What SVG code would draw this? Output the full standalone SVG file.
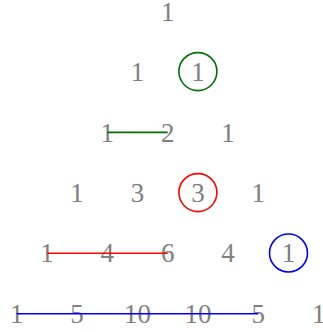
<svg xmlns="http://www.w3.org/2000/svg" width="323" height="332" viewBox="0 0 323 332">
<style>
text{font-family:"Liberation Serif","Times New Roman",serif;font-size:27px;fill:#808080;text-anchor:middle}
.c{fill:none;stroke-width:1.6}
.l{stroke-width:1.6}
</style>
<rect width="323" height="332" fill="#fff"/>
<g id="r0"><text x="167.7" y="20.8">1</text></g>
<g id="r1"><text x="137.5" y="81.2">1</text><text x="197.9" y="81.2">1</text></g>
<g id="r2"><text x="107.3" y="141.6">1</text><text x="167.7" y="141.6">2</text><text x="228.1" y="141.6">1</text></g>
<g id="r3"><text x="77.1" y="202">1</text><text x="137.5" y="202">3</text><text x="197.9" y="202">3</text><text x="258.3" y="202">1</text></g>
<g id="r4"><text x="46.9" y="262.4">1</text><text x="107.3" y="262.4">4</text><text x="167.7" y="262.4">6</text><text x="228.1" y="262.4">4</text><text x="288.5" y="262.4">1</text></g>
<g id="r5"><text x="16.7" y="322.8">1</text><text x="77.1" y="322.8">5</text><text x="137.5" y="322.8">10</text><text x="197.9" y="322.8">10</text><text x="258.3" y="322.8">5</text><text x="318.7" y="322.8">1</text></g>
<g id="connectors">
<circle class="c" cx="197.9" cy="71.6" r="19" stroke="#007000"/>
<circle class="c" cx="197.9" cy="192.6" r="19" stroke="#ff0000"/>
<circle class="c" cx="288.5" cy="253" r="19" stroke="#0000ff"/>
<line class="l" x1="107.3" y1="132.4" x2="167.7" y2="132.4" stroke="#007000"/>
<line class="l" x1="46.9" y1="253.2" x2="167.7" y2="253.2" stroke="#ff0000"/>
<line class="l" x1="16.7" y1="313.8" x2="258.3" y2="313.8" stroke="#0000ff"/>
</g>
</svg>
